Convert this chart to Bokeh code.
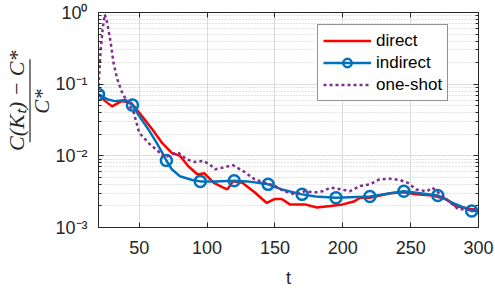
import math
from bokeh.plotting import figure
from bokeh.layouts import row
from bokeh.models import (LinearAxis, LogAxis, FixedTicker, LogTicker, Range1d, Legend,
                          LegendItem, CustomJSTickFormatter)
from bokeh.core.properties import value
from bokeh.embed import file_html
from bokeh.resources import INLINE

# ---------------- data ----------------
direct_t = [20, 25, 30, 37, 44, 47, 52, 60, 67, 74, 80, 86, 93, 98, 100, 105, 112, 115,
            119, 126, 135, 144, 150, 155, 161, 172, 181, 191, 200, 208, 213, 220, 235,
            245, 254, 266, 276, 283, 295, 300]
direct_v = [0.072, 0.058, 0.049, 0.058, 0.055, 0.047, 0.036, 0.023, 0.015, 0.011, 0.010,
            0.0072, 0.0055, 0.0057, 0.0052, 0.0042, 0.0036, 0.0034, 0.0044, 0.0042, 0.0031,
            0.0022, 0.0025, 0.0025, 0.0021, 0.0021, 0.0019, 0.0020, 0.0021, 0.0023, 0.0026,
            0.0026, 0.0030, 0.0031, 0.0029, 0.0028, 0.0025, 0.0020, 0.0018, 0.0017]

indirect_t = [20, 27, 32, 40, 45, 50, 57, 63, 67, 70, 74, 80, 89, 95, 106, 120, 130, 145,
              155, 170, 180, 195, 220, 235, 245, 257, 270, 281, 295, 300]
indirect_v = [0.072, 0.061, 0.058, 0.060, 0.051, 0.036, 0.023, 0.015, 0.011, 0.0086, 0.0065,
              0.0052, 0.0046, 0.0044, 0.0044, 0.0045, 0.0044, 0.0040, 0.0034, 0.0029, 0.0027,
              0.0026, 0.0027, 0.0030, 0.0032, 0.0030, 0.0028, 0.0022, 0.0017, 0.0017]
indirect_marker_t = [20, 45, 70, 95, 120, 145, 170, 195, 220, 245, 270, 295]
indirect_marker_v = [0.072, 0.051, 0.0086, 0.0044, 0.0045, 0.0040, 0.0029, 0.0026, 0.0027,
                     0.0032, 0.0028, 0.0017]

oneshot_t = [20, 21.5, 23, 24.6, 26.4, 29, 31, 33.7, 37.4, 41, 46, 50, 57, 63, 69, 74, 79,
             85, 91, 97, 102, 106, 111, 119, 128, 135, 143, 150, 157, 165, 172, 180, 185,
             191, 199, 205, 213, 220, 227, 235, 242, 248, 254, 262, 266, 272, 276, 281,
             285, 291, 298, 300]
oneshot_v = [0.094, 0.28, 0.58, 0.94, 0.72, 0.38, 0.20, 0.12, 0.076, 0.058, 0.040, 0.021,
             0.015, 0.012, 0.0095, 0.0105, 0.011, 0.0089, 0.0082, 0.0085, 0.0076, 0.0065,
             0.0068, 0.0074, 0.0059, 0.0047, 0.0042, 0.0038, 0.0032, 0.0029, 0.0032, 0.0031,
             0.0032, 0.0036, 0.0034, 0.0032, 0.0038, 0.0040, 0.0047, 0.0048, 0.0046, 0.0042,
             0.0034, 0.0032, 0.0036, 0.0029, 0.0025, 0.0021, 0.0018, 0.0018, 0.0018, 0.0018]

x_ticks = [50, 100, 150, 200, 250, 300]
y_ticks = [0.001, 0.01, 0.1, 1.0]
y_tick_labels = ["10⁻³", "10⁻²", "10⁻¹", "10⁰"]
legend_labels = ["direct", "indirect", "one-shot"]
y_label_num = "C(Kₜ) − C*"
y_label_den = "C*"

# ---------------- style ----------------
AX = "#262626"
FONT = "Liberation Sans"
RED = "#FF0000"
BLUE = "#0072BD"
PURPLE = "#7E2F8E"
W, H = 495, 290
LW = 52  # width of the y-label strip

p = figure(width=W - LW, height=H, y_axis_type="log", output_backend="svg",
           toolbar_location=None, x_range=Range1d(20, 300), y_range=Range1d(1e-3, 1.0),
           min_border_left=98 - LW, min_border_right=17, min_border_top=12,
           min_border_bottom=62, x_axis_label="t")
p.outline_line_color = AX
p.outline_line_width = 1
p.background_fill_color = "white"
p.border_fill_color = "white"

for ax in (p.xaxis[0], p.yaxis[0]):
    ax.axis_line_color = AX
    ax.major_tick_line_color = AX
    ax.minor_tick_line_color = AX
    ax.major_tick_in = 5
    ax.major_tick_out = 0
    ax.minor_tick_in = 3
    ax.minor_tick_out = 0
    ax.major_label_text_font = FONT
    ax.major_label_text_font_size = "18px"
    ax.major_label_text_color = AX
    ax.axis_label_text_font = FONT
    ax.axis_label_text_font_size = "18px"
    ax.axis_label_text_font_style = "normal"
    ax.axis_label_text_color = AX

p.xaxis[0].ticker = FixedTicker(ticks=x_ticks, minor_ticks=[])
p.xaxis[0].major_label_standoff = 13
p.xaxis[0].axis_label_standoff = 11
p.yaxis[0].ticker = LogTicker(desired_num_ticks=4, num_minor_ticks=10)
p.yaxis[0].major_label_overrides = {v: s for v, s in zip(y_ticks, y_tick_labels)}
p.yaxis[0].major_label_standoff = 11

blank = CustomJSTickFormatter(code="return ''")
top_ax = LinearAxis(ticker=FixedTicker(ticks=x_ticks, minor_ticks=[]), formatter=blank,
                    axis_line_color=AX, major_tick_line_color=AX, major_tick_in=5,
                    major_tick_out=0, major_label_standoff=0, major_label_text_font_size="1px")
p.add_layout(top_ax, "above")
right_ax = LogAxis(ticker=LogTicker(desired_num_ticks=4, num_minor_ticks=10), formatter=blank,
                   axis_line_color=AX, major_tick_line_color=AX, minor_tick_line_color=AX,
                   major_tick_in=5, major_tick_out=0, minor_tick_in=3, minor_tick_out=0,
                   major_label_standoff=0, major_label_text_font_size="1px")
p.add_layout(right_ax, "right")

p.xgrid.grid_line_color = "#dcdcdc"
p.ygrid.grid_line_color = "#dcdcdc"
p.ygrid.minor_grid_line_color = "#c8c8c8"
p.ygrid.minor_grid_line_dash = "1 2"

r_direct = p.line(direct_t, direct_v, line_color=RED, line_width=2.5)
r_ind = p.line(indirect_t, indirect_v, line_color=BLUE, line_width=2.5)
r_ind_m = p.scatter(indirect_marker_t, indirect_marker_v, marker="circle", size=11,
                    line_color=BLUE, line_width=2.5, fill_color=None)
r_one = p.line(oneshot_t, oneshot_v, line_color=PURPLE, line_width=2.5, line_dash="3 3")

legend = Legend(items=[LegendItem(label=legend_labels[0], renderers=[r_direct]),
                       LegendItem(label=legend_labels[1], renderers=[r_ind, r_ind_m]),
                       LegendItem(label=legend_labels[2], renderers=[r_one])],
                location=(219, 126), orientation="vertical")
legend.label_text_font = FONT
legend.label_text_font_size = "17px"
legend.label_text_color = "black"
legend.border_line_color = AX
legend.border_line_width = 1
legend.background_fill_color = "white"
legend.background_fill_alpha = 1
legend.padding = 5
legend.spacing = 1
legend.margin = 0
legend.label_height = 21
legend.glyph_height = 21
legend.glyph_width = 48
legend.label_standoff = 5
p.add_layout(legend)

# ---------------- y-axis label strip: a fraction of two texts and a bar ----------------
q = figure(width=LW, height=H, output_backend="svg", toolbar_location=None,
           x_range=Range1d(0, LW), y_range=Range1d(0, H), x_axis_location=None,
           y_axis_location=None, min_border=0)
q.outline_line_color = None
q.grid.visible = False
q.background_fill_color = "white"
q.border_fill_color = "white"
serif = value("Liberation Serif")
q.text(x=[16], y=[H - 119], text=[y_label_num], angle=math.pi / 2, text_align="center",
       text_baseline="middle", text_font=serif, text_font_style="italic",
       text_font_size="22px", text_color=AX)
q.text(x=[41], y=[H - 120], text=[y_label_den], angle=math.pi / 2, text_align="center",
       text_baseline="middle", text_font=serif, text_font_style="italic",
       text_font_size="21px", text_color=AX)
q.segment(x0=[29.5], y0=[H - 63], x1=[29.5], y1=[H - 175], line_color=AX, line_width=1.2)

layout = row(q, p)
open("out.html", "w").write(file_html(layout, INLINE))
